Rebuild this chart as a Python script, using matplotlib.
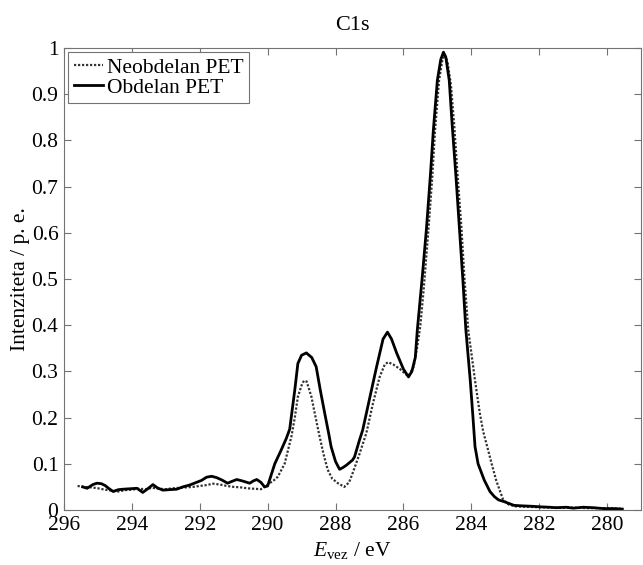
import matplotlib
matplotlib.use("Agg")
import matplotlib.pyplot as plt
from matplotlib.ticker import FixedLocator, FuncFormatter

plt.rcParams['font.family'] = ['Liberation Serif', 'DejaVu Serif']
plt.rcParams['mathtext.fontset'] = 'custom'
plt.rcParams['mathtext.rm'] = 'Liberation Serif'
plt.rcParams['mathtext.it'] = 'Liberation Serif:italic'

title = "C1s"
xlabel = r"$E_{\mathrm{vez}}$ / eV"
ylabel = "Intenziteta / p. e."
label_neo = "Neobdelan PET"
label_obd = "Obdelan PET"

x_ticks = [296, 294, 292, 290, 288, 286, 284, 282, 280]
y_ticks = [0, 0.1, 0.2, 0.3, 0.4, 0.5, 0.6, 0.7, 0.8, 0.9, 1.0]

# Neobdelan PET (dotted)
neo_x = [295.6, 295.4, 295.2, 295.0, 294.8, 294.6, 294.4, 294.2, 294.0, 293.8,
         293.6, 293.4, 293.2, 293.0, 292.8, 292.6, 292.4, 292.2, 292.0, 291.8,
         291.6, 291.4, 291.2, 291.0, 290.8, 290.6, 290.4, 290.2, 290.09, 289.95,
         289.85, 289.7, 289.5, 289.3, 289.2, 289.11, 289.0, 288.93, 288.85, 288.71,
         288.6, 288.47, 288.35, 288.23, 288.1, 287.93, 287.74, 287.6, 287.5, 287.3,
         287.09, 286.9, 286.7, 286.55, 286.45, 286.3, 286.1, 285.95, 285.85, 285.7,
         285.6, 285.5, 285.4, 285.26, 285.15, 285.07, 284.95, 284.85, 284.78, 284.7,
         284.6, 284.5, 284.4, 284.29, 284.2, 284.09, 283.98, 283.89, 283.75, 283.65,
         283.53, 283.4, 283.27, 283.15, 283.06, 282.9, 282.7, 282.4, 282.0, 281.5,
         281.0, 280.5, 280.0, 279.6]
neo_y = [0.052, 0.050, 0.049, 0.047, 0.044, 0.042, 0.040, 0.043, 0.044, 0.046,
         0.045, 0.048, 0.046, 0.045, 0.047, 0.048, 0.049, 0.050, 0.052, 0.054,
         0.057, 0.055, 0.052, 0.050, 0.049, 0.047, 0.046, 0.045, 0.050, 0.058,
         0.062, 0.072, 0.100, 0.159, 0.200, 0.245, 0.270, 0.280, 0.278, 0.245,
         0.205, 0.159, 0.120, 0.087, 0.068, 0.058, 0.050, 0.060, 0.079, 0.120,
         0.167, 0.230, 0.288, 0.315, 0.320, 0.315, 0.305, 0.295, 0.290, 0.310,
         0.350, 0.400, 0.480, 0.610, 0.720, 0.820, 0.930, 0.975, 0.985, 0.970,
         0.920, 0.830, 0.720, 0.610, 0.500, 0.390, 0.330, 0.280, 0.210, 0.170,
         0.137, 0.100, 0.065, 0.040, 0.022, 0.012, 0.008, 0.007, 0.006, 0.005,
         0.005, 0.004, 0.004, 0.003]

# Obdelan PET (solid)
obd_x = [295.45, 295.32, 295.15, 295.03, 294.9, 294.79, 294.65, 294.55, 294.4, 294.26,
         294.05, 293.85, 293.68, 293.55, 293.38, 293.25, 293.09, 292.9, 292.68, 292.5,
         292.3, 292.09, 291.95, 291.8, 291.65, 291.5, 291.35, 291.18, 291.05, 290.91,
         290.75, 290.53, 290.42, 290.32, 290.2, 290.09, 290.0, 289.9, 289.79, 289.6,
         289.45, 289.35, 289.2, 289.11, 289.0, 288.86, 288.7, 288.57, 288.45, 288.32,
         288.2, 288.13, 288.0, 287.88, 287.78, 287.68, 287.5, 287.44, 287.3, 287.2,
         287.0, 286.79, 286.6, 286.47, 286.35, 286.2, 286.0, 285.85, 285.75, 285.65,
         285.59, 285.45, 285.32, 285.2, 285.12, 285.0, 284.9, 284.82, 284.75, 284.65,
         284.56, 284.45, 284.35, 284.25, 284.16, 284.03, 283.95, 283.89, 283.8, 283.62,
         283.45, 283.32, 283.2, 283.03, 282.74, 282.5, 282.2, 282.0, 281.7, 281.5,
         281.2, 281.0, 280.7, 280.4, 280.1, 279.8, 279.55]
obd_y = [0.050, 0.047, 0.055, 0.058, 0.057, 0.053, 0.045, 0.040, 0.044, 0.045,
         0.046, 0.047, 0.038, 0.045, 0.055, 0.048, 0.043, 0.044, 0.045, 0.050,
         0.054, 0.060, 0.064, 0.071, 0.073, 0.070, 0.065, 0.058, 0.062, 0.066,
         0.063, 0.058, 0.063, 0.066, 0.060, 0.050, 0.052, 0.075, 0.100, 0.130,
         0.155, 0.175, 0.260, 0.317, 0.335, 0.340, 0.330, 0.310, 0.260, 0.210,
         0.165, 0.137, 0.105, 0.088, 0.092, 0.097, 0.108, 0.115, 0.150, 0.173,
         0.240, 0.310, 0.370, 0.385, 0.370, 0.340, 0.305, 0.288, 0.300, 0.330,
         0.390, 0.500, 0.610, 0.730, 0.820, 0.930, 0.975, 0.991, 0.980, 0.930,
         0.830, 0.720, 0.610, 0.500, 0.390, 0.280, 0.200, 0.137, 0.100, 0.065,
         0.040, 0.029, 0.022, 0.018, 0.010, 0.009, 0.008, 0.007, 0.006, 0.005,
         0.006, 0.004, 0.006, 0.005, 0.003, 0.003, 0.002]

fig = plt.figure(figsize=(6.43, 5.65), dpi=100)
ax = fig.add_axes([64 / 643, 55 / 565, 577 / 643, 462 / 565])

ax.plot(neo_x, neo_y, color='0.2', lw=1.6, linestyle=(0, (1, 0.8)), label=label_neo)
ax.plot(obd_x, obd_y, color='black', lw=2.0, label=label_obd)

ax.set_xlim(296, 279)
ax.set_ylim(0, 1)
ax.xaxis.set_major_locator(FixedLocator(x_ticks))
ax.yaxis.set_major_locator(FixedLocator(y_ticks))
ax.xaxis.set_major_formatter(FuncFormatter(lambda v, p: f"{int(round(v))}"))
ax.yaxis.set_major_formatter(FuncFormatter(lambda v, p: "0" if v == 0 else ("1" if abs(v - 1) < 1e-9 else f"{v:.1f}")))

ax.tick_params(direction='in', top=True, right=True, length=5, width=0.8,
               color='0.45', labelsize=15.5, labelcolor='black')
ax.tick_params(axis='x', pad=4)
ax.tick_params(axis='y', pad=4)
for s in ax.spines.values():
    s.set_color('0.45')
    s.set_linewidth(0.8)

ax.set_title(title, fontsize=16, pad=13)
ax.set_xlabel(xlabel, fontsize=15.5, labelpad=4)
ax.set_ylabel(ylabel, fontsize=15.5, labelpad=1)

leg = ax.legend(loc='upper left', fontsize=15.5, frameon=True, fancybox=False,
                framealpha=1, edgecolor='0.45', handlelength=1.35, handletextpad=0.2,
                borderpad=0.25, labelspacing=0.0, borderaxespad=0.2)
leg.get_frame().set_linewidth(0.8)

fig.savefig("out.png", dpi=100)
